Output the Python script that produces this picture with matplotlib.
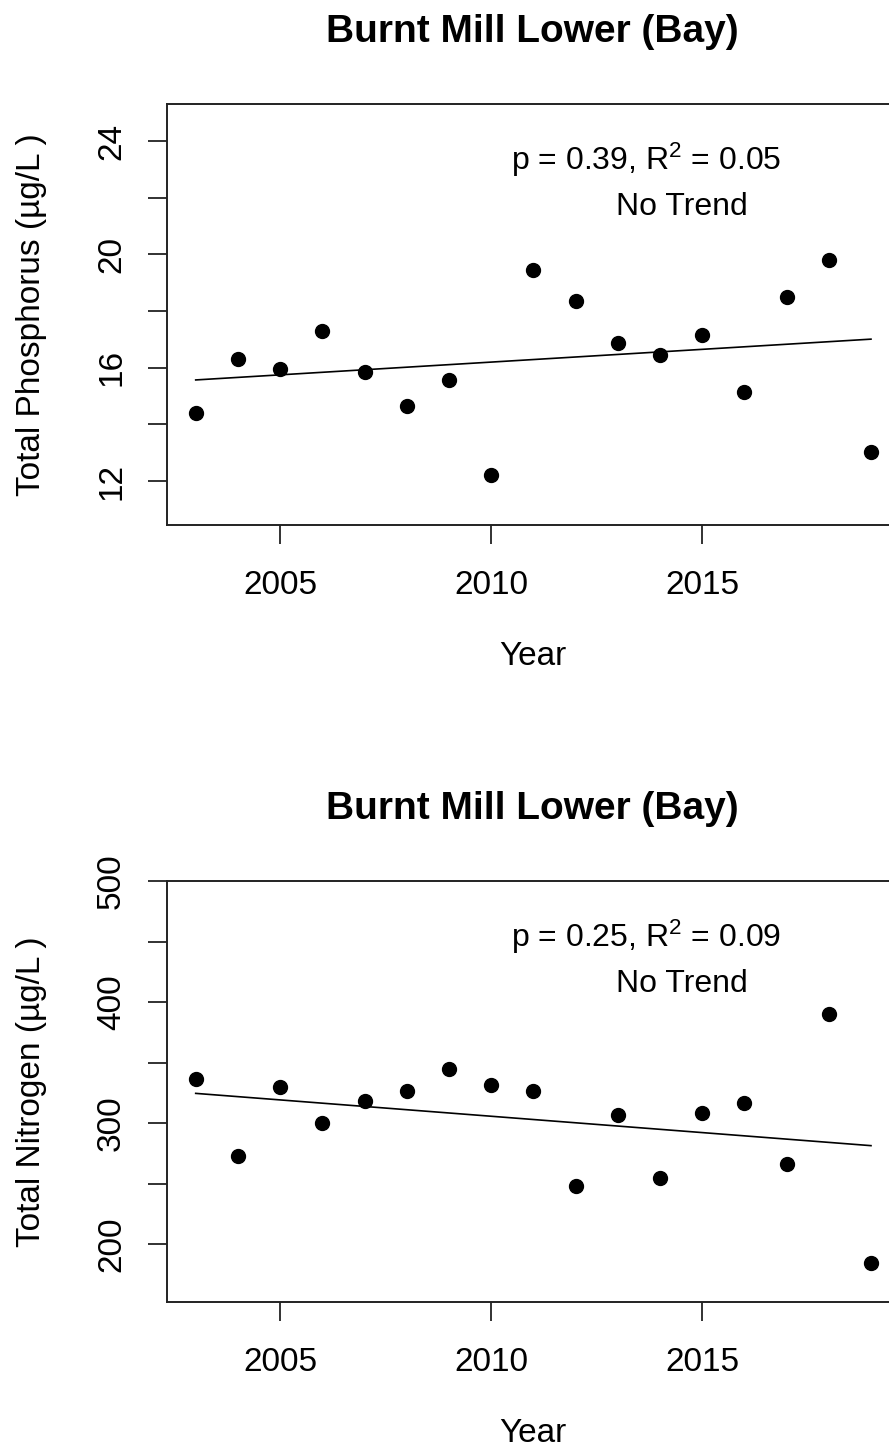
import matplotlib.pyplot as plt

plt.rcParams["font.family"] = ["Liberation Sans", "DejaVu Sans"]
plt.rcParams["mathtext.fontset"] = "custom"
plt.rcParams["mathtext.rm"] = "Liberation Sans"
plt.rcParams["mathtext.it"] = "Liberation Sans:italic"

TITLE = "Burnt Mill Lower (Bay)"

years = list(range(2003, 2020))
tp_values = [14.42, 16.30, 15.94, 17.29, 15.86, 14.65, 15.58, 12.21, 19.44,
             18.35, 16.86, 16.45, 17.15, 15.14, 18.50, 19.80, 13.02]
tn_values = [336.4, 273.0, 329.5, 299.7, 318.2, 326.7, 344.6, 331.4, 326.7,
             247.9, 306.4, 254.3, 308.0, 316.3, 266.4, 390.0, 184.3]

# fitted trend line, start and end (2003, 2019)
fit_years = [2003, 2019]
tp_fit = [15.57, 17.01]
tn_fit = [324.5, 281.3]

x_ticks = [2005, 2010, 2015]
tp_ticks = [12, 14, 16, 18, 20, 22, 24]
tp_tick_labels = ["12", "", "16", "", "20", "", "24"]
tn_ticks = [200, 250, 300, 350, 400, 450, 500]
tn_tick_labels = ["200", "", "300", "", "400", "", "500"]

tp_stats = ["p = 0.39, $\\mathrm{R}^2$ = 0.05", "No Trend"]
tn_stats = ["p = 0.25, $\\mathrm{R}^2$ = 0.09", "No Trend"]

W, H = 889, 1455
AX_LEFT, AX_W, AX_H = 167, 731, 421


def draw_panel(ax, values, fit, ylim, yticks, ylabels, ylabel, stats):
    ax.plot(years, values, "o", color="black", markersize=10)
    ax.plot(fit_years, fit, color="black", linewidth=1.2)

    ax.set_xlim(2002.32, 2019.64)
    ax.set_ylim(*ylim)
    ax.set_xticks(x_ticks)
    ax.set_yticks(yticks)
    ax.set_yticklabels(ylabels, rotation=90, va="center")

    ax.tick_params(direction="out", length=13.7, width=1.3, labelsize=24,
                   color="#222222")
    ax.tick_params(axis="x", pad=19)
    ax.tick_params(axis="y", pad=15)
    for sp in ax.spines.values():
        sp.set_linewidth(1.4)
        sp.set_color("#222222")

    ax.set_title(TITLE, fontsize=28, fontweight="bold", pad=44.6)
    ax.set_xlabel("Year", fontsize=24)
    ax.xaxis.set_label_coords(0.5, -(641 - 525) / AX_H)
    ax.set_ylabel(ylabel, fontsize=24)
    ax.yaxis.set_label_coords((47 - AX_LEFT) / AX_W, 0.5)

    ax.text(0.656, 1 - 66 / AX_H, stats[0], transform=ax.transAxes,
            ha="center", va="baseline", fontsize=23)
    ax.text(0.705, 1 - 111 / AX_H, stats[1], transform=ax.transAxes,
            ha="center", va="baseline", fontsize=23)


def main() -> None:
    fig = plt.figure(figsize=(W / 100, H / 100), dpi=100)
    ax1 = fig.add_axes([AX_LEFT / W, 1 - 525 / H, AX_W / W, AX_H / H])
    ax2 = fig.add_axes([AX_LEFT / W, 1 - 1302 / H, AX_W / W, AX_H / H])

    draw_panel(ax1, tp_values, tp_fit, (10.45, 25.31), tp_ticks, tp_tick_labels,
               "Total Phosphorus (µg/L )", tp_stats)
    draw_panel(ax2, tn_values, tn_fit, (152.1, 500), tn_ticks, tn_tick_labels,
               "Total Nitrogen (µg/L )", tn_stats)

    fig.savefig("out.png", dpi=100)
    plt.close(fig)


if __name__ == "__main__":
    main()
